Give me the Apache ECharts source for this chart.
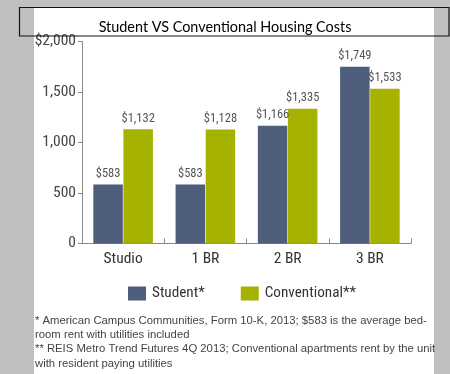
<!DOCTYPE html>
<html>
<head>
<meta charset="utf-8">
<script src="https://cdn.jsdelivr.net/npm/echarts@6/dist/echarts.min.js"></script>
<style>
html,body{margin:0;padding:0;background:#c0c0c0;}
#panel{position:absolute;left:34px;top:7px;width:400px;height:367px;background:#ffffff;}
#chart{position:absolute;left:0;top:0;width:450px;height:374px;}
</style>
</head>
<body>
<div id="panel"></div>
<div id="chart"></div>
<script>
const titleText = 'Student VS Conventional Housing Costs';
const categories = ['Studio', '1 BR', '2 BR', '3 BR'];
const studentValues = [583, 583, 1166, 1749];
const conventionalValues = [1132, 1128, 1335, 1533];
const seriesNames = ['Student*', 'Conventional**'];
const yTickValues = [0, 500, 1000, 1500, 2000];
const footnotes = [
  '* American Campus Communities, Form 10-K, 2013; $583 is the average bed-',
  'room rent with utilities included',
  '** REIS Metro Trend Futures 4Q 2013; Conventional apartments rent by the unit',
  'with resident paying utilities'
];

const COND = "Roboto, sans-serif";
const STRETCH = 'condensed';
const chart = echarts.init(document.getElementById('chart'), null, {renderer: 'canvas'});

function fmtMoney(v) { return '$' + v.toLocaleString('en-US'); }

const footGraphics = footnotes.map((t, i) => ({
  type: 'text', left: 35, top: 315 + i * 14.4, z: 50,
  style: { text: t, fill: '#444', font: "11.3px 'Liberation Sans', Arial, sans-serif" }
}));

const valueLabel = {
  show: true, position: 'top', distance: 4,
  fontFamily: COND, fontStyle: STRETCH, fontSize: 12.5, color: '#555',
  formatter: p => fmtMoney(p.value)
};

chart.setOption({
  backgroundColor: 'transparent',
  animation: false,
  grid: { left: 82, right: 39, top: 41.5, bottom: 130.5, containLabel: false },
  legend: {
    data: seriesNames,
    left: 128, top: 286,
    icon: 'rect', itemWidth: 18, itemHeight: 14, itemGap: 36,
    textStyle: { fontFamily: COND, fontStyle: STRETCH, fontSize: 15.2, color: '#333', padding: [0, 0, 0, 1] },
    padding: 0
  },
  xAxis: {
    type: 'category',
    data: categories,
    axisLine: { lineStyle: { color: '#8a8a8a', width: 1 } },
    axisTick: { show: true, inside: true, length: 5, alignWithLabel: false, lineStyle: { color: '#8a8a8a' } },
    axisLabel: { fontFamily: COND, fontStyle: STRETCH, fontSize: 15.5, color: '#333', margin: 8 }
  },
  yAxis: {
    type: 'value',
    min: 0, max: 2000, interval: 500,
    splitLine: { show: false },
    axisLine: { show: true, lineStyle: { color: '#8a8a8a', width: 1 } },
    axisTick: { show: true, length: 4, lineStyle: { color: '#8a8a8a' } },
    axisLabel: {
      fontFamily: COND, fontStyle: STRETCH, fontSize: 15.5, color: '#444', margin: 6,
      formatter: v => (v === yTickValues[yTickValues.length - 1] ? '$' : '') + v.toLocaleString('en-US')
    }
  },
  series: [
    {
      name: seriesNames[0], type: 'bar', data: studentValues,
      barWidth: 29.5, barGap: '2%',
      itemStyle: { color: '#4f5e7c' },
      label: valueLabel
    },
    {
      name: seriesNames[1], type: 'bar', data: conventionalValues,
      barWidth: 29.5,
      itemStyle: { color: '#a6b200' },
      label: valueLabel
    }
  ],
  graphic: [
    {
      type: 'rect', z: 100, silent: true,
      shape: { x: 19.5, y: 7.5, width: 429.5, height: 28.5 },
      style: { fill: 'none', stroke: '#111', lineWidth: 1.2 }
    },
    {
      type: 'text', z: 101, x: 225, y: 27.5,
      style: { text: titleText, fill: '#000', font: "14.4px Lato, 'Open Sans', sans-serif", textAlign: 'center', textVerticalAlign: 'middle' }
    }
  ].concat(footGraphics)
});
</script>
</body>
</html>
